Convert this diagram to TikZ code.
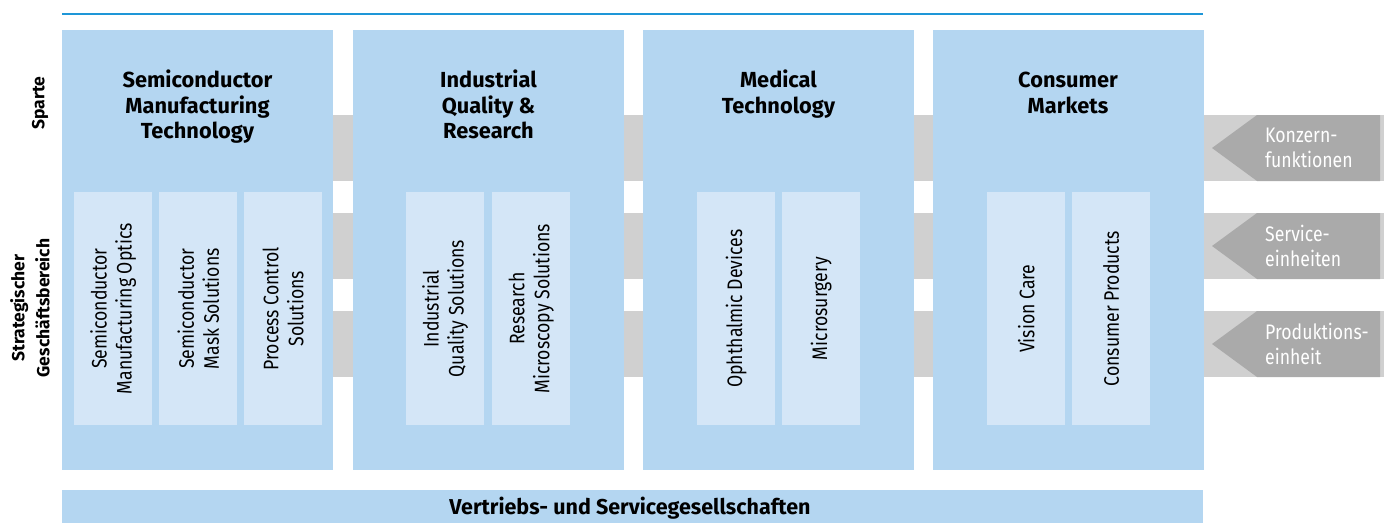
\documentclass[tikz,border=0pt]{standalone}
\usepackage{fontspec}
\setmainfont{Fira Sans}
\newfontfamily\condfont[FakeStretch=0.84]{Fira Sans}
\definecolor{topline}{RGB}{30,150,215}
\definecolor{mainblue}{RGB}{180,214,241}
\definecolor{subblue}{RGB}{212,230,247}
\definecolor{bandgrey}{RGB}{208,208,208}
\definecolor{arrowgrey}{RGB}{170,170,170}
\begin{document}
\begin{tikzpicture}[x=1pt,y=-1pt,
  mainbox/.style={fill=mainblue,draw=none,inner sep=0pt,minimum width=271pt,minimum height=440pt,anchor=north west},
  subbox/.style={fill=subblue,draw=none,inner sep=0pt,minimum width=78pt,minimum height=233pt,anchor=north west},
  band/.style={fill=bandgrey},
  arrowshape/.style={fill=arrowgrey},
  titletext/.style={font=\fontsize{21.8}{25.5}\selectfont\bfseries,align=center,inner sep=0pt,anchor=north},
  sidetext/.style={font=\fontsize{17.5}{25}\selectfont\bfseries,align=center,inner sep=0pt,rotate=90},
  sublabel/.style={font=\condfont\fontsize{21}{25}\selectfont,align=center,inner sep=0pt,rotate=90},
  arrowlabel/.style={font=\condfont\fontsize{21}{25}\selectfont,align=left,inner sep=0pt,anchor=west,text=white}
]
\useasboundingbox (0,0) rectangle (1384,523);
% top line
\coordinate (tl1) at (62,14);
\coordinate (tl2) at (1203,14);
\draw[topline,line width=1.5pt] (tl1) -- (tl2);
% grey bands
\fill[band] (333,115) rectangle (1384,181);
\fill[band] (333,213) rectangle (1384,279);
\fill[band] (333,311) rectangle (1384,377);
% main boxes
\node[mainbox] (b1) at (62,30) {};
\node[mainbox] (b2) at (353,30) {};
\node[mainbox] (b3) at (643,30) {};
\node[mainbox] (b4) at (933,30) {};
% titles
\node[titletext] (t1) at (197.5,69.5) {\strut Semiconductor\\Manufacturing\\Technology};
\node[titletext] (t2) at (488.5,69.5) {\strut Industrial\\Quality \&\\Research};
\node[titletext] (t3) at (778.5,69.5) {\strut Medical\\Technology};
\node[titletext] (t4) at (1068,69.5) {\strut Consumer\\Markets};
% sub boxes
\node[subbox] (s11) at (74,192) {};
\node[subbox] (s12) at (159,192) {};
\node[subbox] (s13) at (244,192) {};
\node[subbox] (s21) at (406,192) {};
\node[subbox] (s22) at (492,192) {};
\node[subbox] (s31) at (697,192) {};
\node[subbox] (s32) at (782,192) {};
\node[subbox] (s41) at (987,192) {};
\node[subbox] (s42) at (1072,192) {};
\node[sublabel] (l11) at (s11.center) {Semiconductor\\Manufacturing Optics};
\node[sublabel] (l12) at (s12.center) {Semiconductor\\Mask Solutions};
\node[sublabel] (l13) at (s13.center) {Process Control\\Solutions};
\node[sublabel] (l21) at (s21.center) {Industrial\\Quality Solutions};
\node[sublabel] (l22) at (s22.center) {Research\\Microscopy Solutions};
\node[sublabel] (l31) at (s31.center) {Ophthalmic Devices};
\node[sublabel] (l32) at (s32.center) {Microsurgery};
\node[sublabel] (l41) at (s41.center) {Vision Care};
\node[sublabel] (l42) at (s42.center) {Consumer Products};
% side labels
\node[sidetext] (sp) at (40,103) {Sparte};
\node[sidetext] (sg) at (30,308) {Strategischer\\Geschäftsbereich};
% right arrows
\fill[arrowshape] (1212,148) -- (1257,115) -- (1380,115) -- (1380,181) -- (1257,181) -- cycle;
\fill[arrowshape] (1212,246) -- (1257,213) -- (1380,213) -- (1380,279) -- (1257,279) -- cycle;
\fill[arrowshape] (1212,344) -- (1257,311) -- (1380,311) -- (1380,377) -- (1257,377) -- cycle;
\node[arrowlabel] (a1) at (1265,148) {Konzern-\\funktionen};
\node[arrowlabel] (a2) at (1265,246) {Service-\\einheiten};
\node[arrowlabel] (a3) at (1265,344) {Produktions-\\einheit};
% bottom bar
\node[fill=mainblue,draw=none,inner sep=0pt,minimum width=1141pt,minimum height=33pt,anchor=north west] (bar) at (62,490) {};
\node[font=\fontsize{21.5}{24}\selectfont\bfseries,inner sep=0pt] (bt) at (630,508.5) {Vertriebs- und Servicegesellschaften};
\end{tikzpicture}
\end{document}
